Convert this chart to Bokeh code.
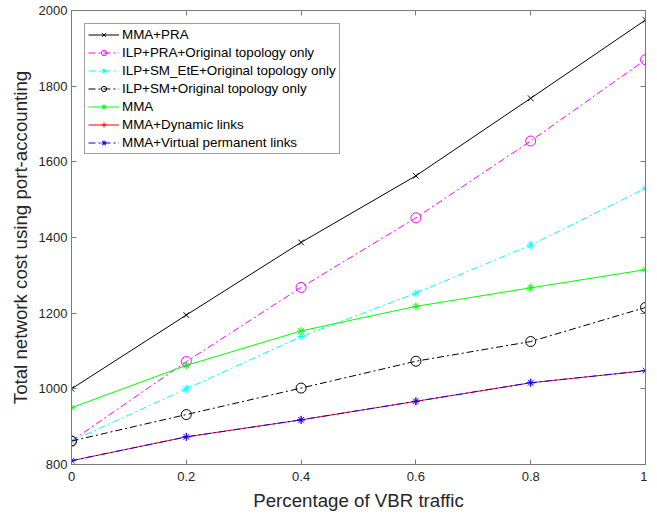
from bokeh.plotting import figure
from bokeh.models import Range1d, FixedTicker, LinearAxis, Legend, LegendItem, CustomJSTickFormatter
from bokeh.embed import file_html
from bokeh.resources import INLINE

x = [0, 0.2, 0.4, 0.6, 0.8, 1.0]
mma_pra = [1000, 1195, 1387, 1563, 1768, 1975]
ilp_pra = [862, 1072, 1268, 1452, 1655, 1870]
ilp_sm_ete = [862, 1000, 1138, 1253, 1380, 1530]
ilp_sm = [862, 932, 1002, 1073, 1125, 1215]
mma = [950, 1062, 1153, 1218, 1267, 1315]
mma_dyn = [810, 873, 918, 967, 1016, 1048]
mma_vpl = [810, 873, 918, 967, 1016, 1048]
x_ticks = [0, 0.2, 0.4, 0.6, 0.8, 1]
y_ticks = [800, 1000, 1200, 1400, 1600, 1800, 2000]

FONT = "Liberation Sans"
TXT = "#262626"
AXC = "#7a7a7a"

p = figure(width=641, height=498, output_backend="svg", toolbar_location=None,
           x_range=Range1d(0, 1), y_range=Range1d(800, 2000),
           frame_width=574, frame_height=454,
           min_border_left=71, min_border_top=10, min_border_right=2, min_border_bottom=8)
p.background_fill_color = "white"
p.border_fill_color = "white"
p.grid.visible = False
p.outline_line_color = AXC
p.outline_line_width = 1

p.xaxis.ticker = FixedTicker(ticks=x_ticks)
p.yaxis.ticker = FixedTicker(ticks=y_ticks)
p.xaxis.major_label_overrides = {0: "0", 0.2: "0.2", 0.4: "0.4", 0.6: "0.6", 0.8: "0.8", 1: "1"}
p.xaxis.axis_label = "Percentage of VBR traffic"
p.yaxis.axis_label = "Total network cost using port-accounting"
for ax in (p.xaxis[0], p.yaxis[0]):
    ax.axis_line_color = AXC
    ax.major_tick_line_color = AXC
    ax.major_tick_in = 5
    ax.major_tick_out = 0
    ax.minor_tick_line_color = None
    ax.major_label_text_font = FONT
    ax.major_label_text_font_size = "13px"
    ax.major_label_text_color = TXT
    ax.axis_label_text_font = FONT
    ax.axis_label_text_font_size = "18.7px"
    ax.axis_label_text_font_style = "normal"
    ax.axis_label_text_color = TXT
p.xaxis.major_label_standoff = 7
p.yaxis.major_label_standoff = 4
p.xaxis.axis_label_standoff = 6
p.yaxis.axis_label_standoff = 5

for loc in ("above", "right"):
    ax = LinearAxis(ticker=FixedTicker(ticks=x_ticks if loc == "above" else y_ticks),
                    formatter=CustomJSTickFormatter(code="return ''"),
                    major_tick_in=5, major_tick_out=0,
                    minor_tick_line_color=None, axis_line_color=AXC, major_tick_line_color=AXC,
                    major_label_standoff=0, major_label_text_font_size="1px")
    p.add_layout(ax, loc)

DD = "7 3 2 3"
series = [
    ("MMA+PRA", mma_pra, "black", "solid", "x"),
    ("ILP+PRA+Original topology only", ilp_pra, "#ff00ff", DD, "circle"),
    ("ILP+SM_EtE+Original topology only", ilp_sm_ete, "#00ffff", DD, "asterisk"),
    ("ILP+SM+Original topology only", ilp_sm, "black", DD, "circle"),
    ("MMA", mma, "#00ff00", "solid", "asterisk"),
    ("MMA+Dynamic links", mma_dyn, "red", "solid", "cross"),
    ("MMA+Virtual permanent links", mma_vpl, "blue", DD, "asterisk"),
]
items = []
for label, ys, col, dash, marker in series:
    l = p.line(x, ys, line_color=col, line_width=1, line_dash=dash)
    s = p.scatter(x, ys, marker=marker, size=10 if marker == "circle" else 8,
                  line_color=col, fill_color=None, line_width=1)
    items.append(LegendItem(label=label, renderers=[l, s]))

leg = Legend(items=items, location="top_left")
leg.label_text_font = FONT
leg.label_text_font_size = "13.4px"
leg.label_text_color = "black"
leg.border_line_color = "#404040"
leg.border_line_width = 1
leg.background_fill_color = "white"
leg.background_fill_alpha = 1
leg.glyph_width = 31
leg.glyph_height = 13
leg.label_height = 13
leg.spacing = 3
leg.padding = 3
leg.margin = 13
leg.label_standoff = 3
p.add_layout(leg)

open("out.html", "w").write(file_html(p, INLINE))
